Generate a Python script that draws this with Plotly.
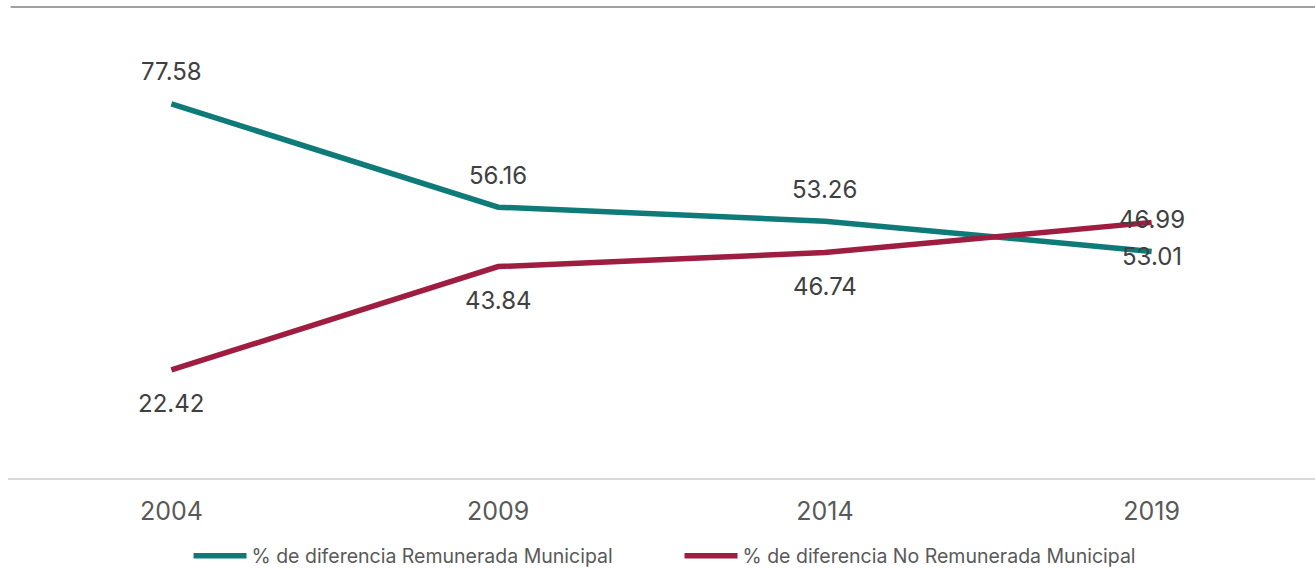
import plotly.graph_objects as go

years = ["2004", "2009", "2014", "2019"]
remunerada = [77.58, 56.16, 53.26, 46.99]
no_remunerada = [22.42, 43.84, 46.74, 53.01]

series_names = [
    "% de diferencia Remunerada Municipal",
    "% de diferencia No Remunerada Municipal",
]
teal = "#0f7b78"
crimson = "#a01d42"
font_family = "Inter, Roboto, 'Open Sans', sans-serif"

fig = go.Figure()
fig.add_trace(go.Scatter(x=years, y=remunerada, mode="lines", name=series_names[0],
                         line=dict(color=teal, width=5.5)))
fig.add_trace(go.Scatter(x=years, y=no_remunerada, mode="lines", name=series_names[1],
                         line=dict(color=crimson, width=5.5)))

# value labels: first series above its line, second series below
# (category axes take the serial index of each category for annotations)
for i, v in enumerate(remunerada):
    fig.add_annotation(x=i, y=v, text=f"{v:.2f}", showarrow=False, yshift=32,
                       font=dict(size=24, color="#404040", family=font_family))
for i, v in enumerate(no_remunerada):
    fig.add_annotation(x=i, y=v, text=f"{v:.2f}", showarrow=False, yshift=-34,
                       font=dict(size=24, color="#404040", family=font_family))

# thin rule under the header
fig.add_shape(type="line", xref="paper", yref="paper", x0=0.002, x1=1.0,
              y0=1 + 37 / 434, y1=1 + 37 / 434, line=dict(color="#808080", width=1.5))

fig.update_layout(
    width=1315, height=570,
    margin=dict(l=8, r=0, t=44, b=92, autoexpand=False),
    paper_bgcolor="white", plot_bgcolor="white",
    font=dict(family=font_family, color="#595959"),
    showlegend=True,
    legend=dict(orientation="h", x=0.5138, xanchor="center", y=-0.180, yanchor="middle",
                font=dict(size=19.5, color="#595959"), itemwidth=53,
                entrywidth=423, entrywidthmode="pixels"),
    xaxis=dict(type="category", range=[-0.5, 3.5], showgrid=False, zeroline=False,
               showline=True, linecolor="#d9d9d9", linewidth=2,
               tickfont=dict(size=25, color="#595959"), ticklabelstandoff=10),
    yaxis=dict(range=[0, 90], visible=False, showgrid=False, zeroline=False),
)

fig.write_html("out.html")
